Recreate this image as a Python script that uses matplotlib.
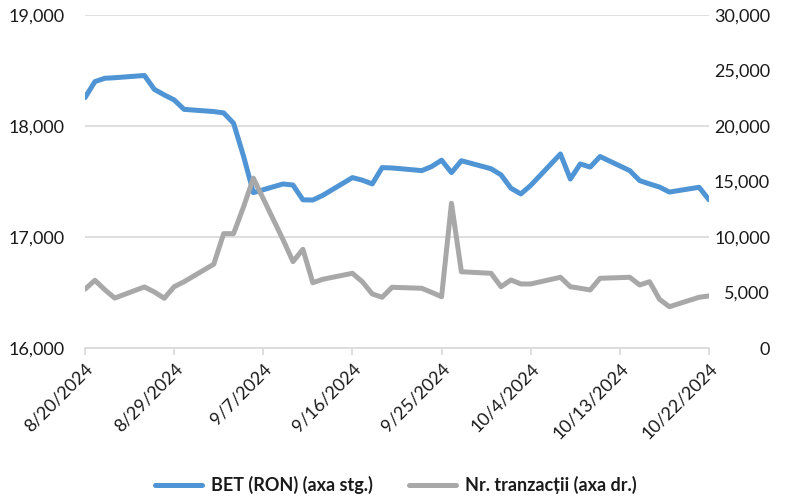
import matplotlib
matplotlib.use("Agg")
import matplotlib.pyplot as plt
import matplotlib.dates as mdates
from matplotlib.ticker import FuncFormatter, FixedLocator
from datetime import date, timedelta

plt.rcParams['font.family'] = ['Lato', 'DejaVu Sans']

dates = [
    "2024-08-20", "2024-08-21", "2024-08-22", "2024-08-23",
    "2024-08-26", "2024-08-27", "2024-08-28", "2024-08-29", "2024-08-30",
    "2024-09-02", "2024-09-03", "2024-09-04", "2024-09-05", "2024-09-06",
    "2024-09-09", "2024-09-10", "2024-09-11", "2024-09-12", "2024-09-13",
    "2024-09-16", "2024-09-17", "2024-09-18", "2024-09-19", "2024-09-20",
    "2024-09-23", "2024-09-24", "2024-09-25", "2024-09-26", "2024-09-27",
    "2024-09-30", "2024-10-01", "2024-10-02", "2024-10-03", "2024-10-04",
    "2024-10-07", "2024-10-08", "2024-10-09", "2024-10-10", "2024-10-11",
    "2024-10-14", "2024-10-15", "2024-10-16", "2024-10-17", "2024-10-18",
    "2024-10-21", "2024-10-22",
]

bet = [
    18255, 18400, 18430, 18435,
    18455, 18330, 18280, 18235, 18150,
    18130, 18118, 18025, 17730, 17400,
    17478, 17468, 17335, 17333, 17375,
    17535, 17512, 17478, 17625, 17622,
    17598, 17635, 17692, 17580, 17687,
    17615, 17560, 17440, 17388, 17465,
    17748, 17522, 17658, 17630, 17725,
    17598, 17508, 17478, 17450, 17405,
    17448, 17335,
]

tranzactii = [
    5300, 6100, 5250, 4500,
    5500, 5050, 4480, 5520, 5970,
    7550, 10300, 10300, 12700, 15300,
    9750, 7780, 8890, 5880, 6190,
    6730, 5970, 4870, 4570, 5470,
    5380, 5010, 4620, 13040, 6870,
    6730, 5520, 6130, 5770, 5770,
    6370, 5520, 5380, 5230, 6280,
    6370, 5680, 5970, 4390, 3720,
    4570, 4690,
]

xtick_dates = ["2024-08-20", "2024-08-29", "2024-09-07", "2024-09-16",
               "2024-09-25", "2024-10-04", "2024-10-13", "2024-10-22"]
xtick_labels = ["8/20/2024", "8/29/2024", "9/7/2024", "9/16/2024",
                "9/25/2024", "10/4/2024", "10/13/2024", "10/22/2024"]
left_ticks = [16000, 17000, 18000, 19000]
right_ticks = [0, 5000, 10000, 15000, 20000, 25000, 30000]

label_bet = "BET (RON) (axa stg.)"
label_tr = "Nr. tranzacții (axa dr.)"

blue = "#4F94D4"
grey = "#A8A8A8"
grid_c = "#D9D9D9"
text_c = "#1a1a1a"

d = [date.fromisoformat(s) for s in dates]
xt = [date.fromisoformat(s) for s in xtick_dates]

fig = plt.figure(figsize=(7.91, 4.99), dpi=100)
ax = fig.add_axes([85/791, 1 - 348/499, 624/791, 333/499])
ax2 = ax.twinx()

l1, = ax.plot(d, bet, color=blue, lw=3.6, solid_joinstyle='round', solid_capstyle='round', zorder=3)
l2, = ax2.plot(d, tranzactii, color=grey, lw=3.6, solid_joinstyle='round', solid_capstyle='round', zorder=3)

ax.set_ylim(16000, 19000)
ax2.set_ylim(0, 30000)
x0 = date(2024, 8, 20) - timedelta(hours=7)
x1 = date(2024, 10, 22) + timedelta(hours=8)
ax.set_xlim(mdates.date2num(x0), mdates.date2num(x1))

ax.yaxis.set_major_locator(FixedLocator(left_ticks))
ax2.yaxis.set_major_locator(FixedLocator(right_ticks))
fmt = FuncFormatter(lambda v, p: f"{int(v):,}")
ax.yaxis.set_major_formatter(fmt)
ax2.yaxis.set_major_formatter(fmt)

ax.set_xticks([mdates.date2num(t) for t in xt])
ax.set_xticklabels(xtick_labels, rotation=45, ha='right', rotation_mode='anchor')

ax.grid(axis='y', color=grid_c, lw=1.2, zorder=0)
ax.set_axisbelow(True)

for a in (ax, ax2):
    for s in ('top', 'left', 'right', 'bottom'):
        a.spines[s].set_visible(False)
ax.spines['bottom'].set_visible(True)
ax.spines['bottom'].set_color(grid_c)
ax.spines['bottom'].set_linewidth(1.2)

ax.tick_params(axis='y', length=0, labelsize=13, labelcolor=text_c, pad=15)
ax2.tick_params(axis='y', length=0, labelsize=13, labelcolor=text_c, pad=44)
for t in ax2.get_yticklabels():
    t.set_horizontalalignment('right')
ax.tick_params(axis='x', length=5, width=1.2, color=grid_c, labelsize=13,
               labelcolor=text_c, pad=4, direction='out')

leg = fig.legend([l1, l2], [label_bet, label_tr], loc='center', bbox_to_anchor=(0.5, 1 - 485/499),
                 ncol=2, frameon=False, handlelength=2.6, columnspacing=2.0, handletextpad=0.5,
                 prop={'weight': 'bold', 'size': 13})
for t in leg.get_texts():
    t.set_color(text_c)

fig.savefig("out.png", dpi=100)
